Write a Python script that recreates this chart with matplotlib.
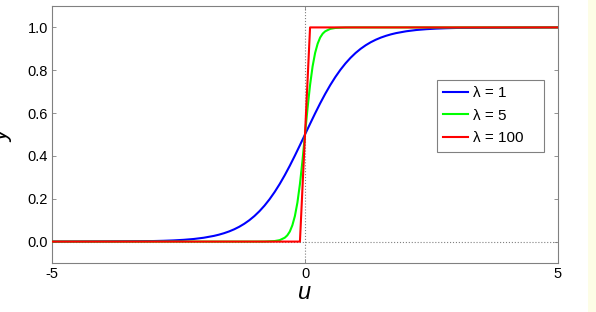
import matplotlib
matplotlib.use("Agg")
import matplotlib.pyplot as plt
from matplotlib.patches import Rectangle

plt.rcParams['font.family'] = ['Liberation Sans', 'DejaVu Sans']
plt.rcParams['axes.unicode_minus'] = False

# data
u_blue = [-5.0, -3.0, -2.8, -2.6, -2.4, -2.2, -2.0, -1.8, -1.7, -1.6, -1.5, -1.4, -1.3, -1.2,
          -1.1, -1.0, -0.9, -0.8, -0.7, -0.6, -0.5, -0.4, -0.3, -0.2, -0.1, 0.0,
          0.1, 0.2, 0.3, 0.4, 0.5, 0.6, 0.7, 0.8, 0.9, 1.0, 1.1, 1.2, 1.3, 1.4, 1.5, 1.6,
          1.7, 1.8, 2.0, 2.2, 2.4, 2.6, 2.8, 3.0, 5.0]
y_blue = [0.0, 0.0025, 0.0037, 0.0055, 0.0082, 0.0121, 0.018, 0.0266, 0.0323, 0.0392, 0.0474,
          0.0573, 0.0691, 0.0832, 0.0998, 0.1192, 0.1419, 0.168, 0.1978, 0.2315, 0.2689,
          0.31, 0.3543, 0.4013, 0.4502, 0.5,
          0.5498, 0.5987, 0.6457, 0.69, 0.7311, 0.7685, 0.8022, 0.832, 0.8581, 0.8808,
          0.9002, 0.9168, 0.9309, 0.9427, 0.9526, 0.9608, 0.9677, 0.9734, 0.982, 0.9879,
          0.9918, 0.9945, 0.9963, 0.9975, 1.0]

u_green = [-5.0, -1.0, -0.8, -0.6, -0.5, -0.4, -0.35, -0.3, -0.25, -0.2, -0.15, -0.1, -0.05,
           0.0, 0.05, 0.1, 0.15, 0.2, 0.25, 0.3, 0.35, 0.4, 0.5, 0.6, 0.8, 1.0, 5.0]
y_green = [0.0, 0.0, 0.0003, 0.0025, 0.0067, 0.018, 0.029, 0.047, 0.076, 0.119, 0.182, 0.269,
           0.378, 0.5, 0.622, 0.731, 0.818, 0.881, 0.924, 0.953, 0.971, 0.982, 0.9933,
           0.9975, 0.9997, 1.0, 1.0]

u_red = [-5.0, -0.1, 0.0, 0.1, 5.0]
y_red = [0.0, 0.0, 0.5, 1.0, 1.0]

labels = ['λ = 1', 'λ = 5', 'λ = 100']
colors = ['#0000ff', '#00ff00', '#ff0000']

fig = plt.figure(figsize=(5.96, 3.12), dpi=100)
fig.patch.set_facecolor('white')
ax = fig.add_axes([52/596, (312-263)/312, (558-52)/596, (263-6)/312])

ax.axhline(0, color='#808080', lw=0.8, ls=':', zorder=1)
ax.axvline(0, color='#808080', lw=0.8, ls=':', zorder=1)

ax.plot(u_blue, y_blue, color=colors[0], lw=1.5, label=labels[0], zorder=2)
ax.plot(u_green, y_green, color=colors[1], lw=1.5, label=labels[1], zorder=3)
ax.plot(u_red, y_red, color=colors[2], lw=1.5, label=labels[2], zorder=4)

ax.set_xlim(-5, 5)
ax.set_ylim(-0.1, 1.1)
ax.set_xticks([-5, 0, 5])
ax.set_yticks([0.0, 0.2, 0.4, 0.6, 0.8, 1.0])
ax.set_yticklabels(['0.0', '0.2', '0.4', '0.6', '0.8', '1.0'])
ax.tick_params(direction='in', length=3, width=0.6, color='#808080', labelsize=10.5,
               top=True, right=True, pad=3)
for s in ax.spines.values():
    s.set_color('#808080')
    s.set_linewidth(0.8)

ax.set_xlabel('u', fontsize=17, style='italic', labelpad=0)

fig.text(0.003, 0.565, 'y', rotation=90, fontsize=17, style='italic', ha='center', va='center')

# legend box (wider than its content, as in the reference)
fig.patches.append(Rectangle((437/596, (312-152)/312), 107/596, 72/312, transform=fig.transFigure,
                             facecolor='white', edgecolor='#808080', linewidth=0.8, zorder=5))
leg = ax.legend(loc='upper left', bbox_to_anchor=(437/596, (312-80)/312),
                bbox_transform=fig.transFigure,
                fontsize=11, frameon=False, handlelength=1.65,
                handletextpad=0.3, borderpad=0.4, labelspacing=0.55, borderaxespad=0)
leg.remove()
fig.add_artist(leg)
leg.set_zorder(6)

fig.patches.append(Rectangle((588/596, 0), 8/596, 1, transform=fig.transFigure,
                             facecolor='#fdfde6', edgecolor='none', zorder=0))

fig.savefig('out.png', dpi=100)
